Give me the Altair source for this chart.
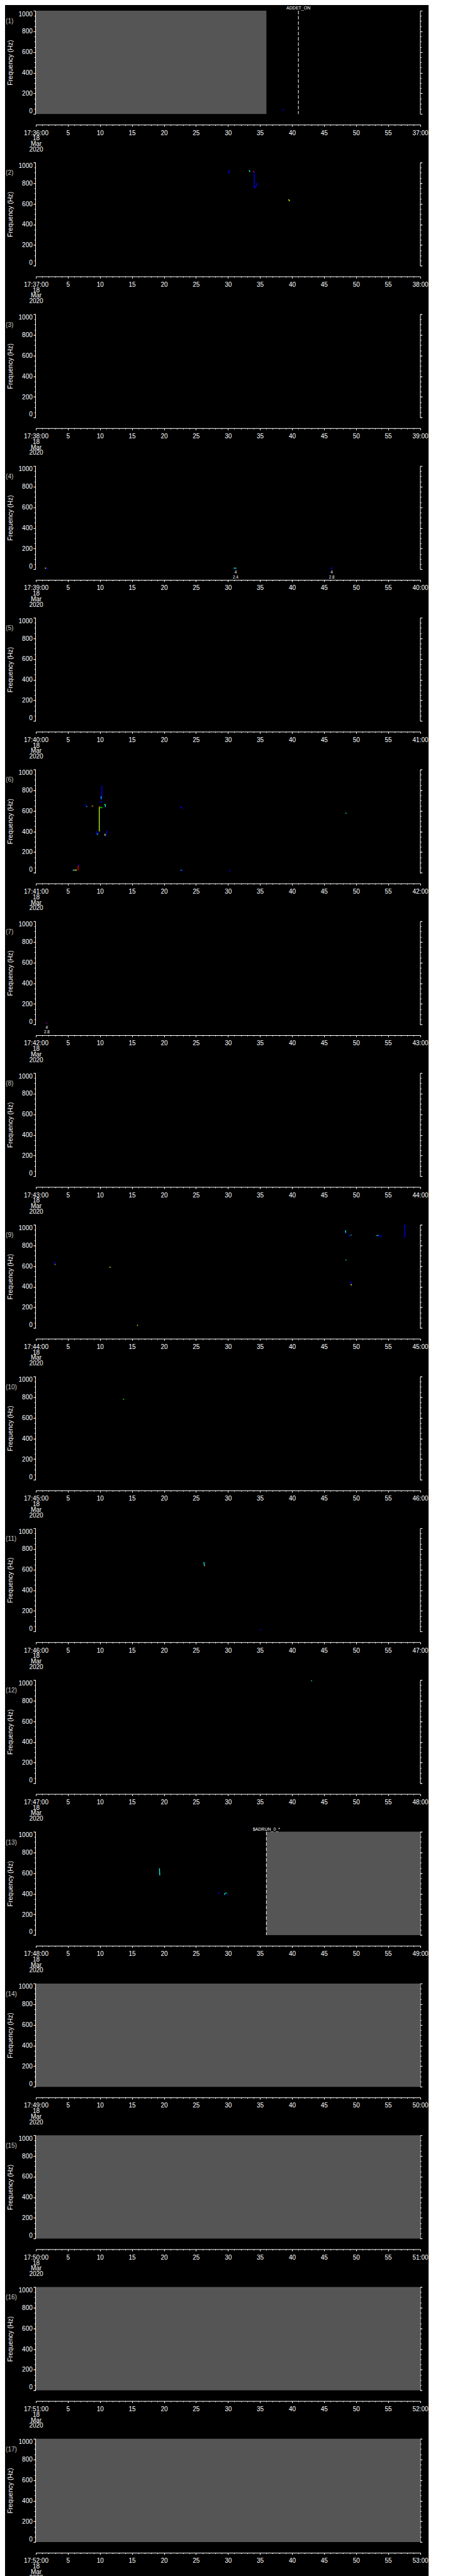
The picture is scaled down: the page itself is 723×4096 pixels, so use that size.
import altair as alt
import pandas as pd

S = 0.705
W = round(866 * S, 1)
H = round(233 * S, 1)
GAP = round(341.25 * S - H, 1)

panel_no = list(range(1, 18))
start_labels = ["17:36:00", "17:37:00", "17:38:00", "17:39:00", "17:40:00", "17:41:00",
                "17:42:00", "17:43:00", "17:44:00", "17:45:00", "17:46:00", "17:47:00",
                "17:48:00", "17:49:00", "17:50:00", "17:51:00", "17:52:00"]
end_labels = ["37:00", "38:00", "39:00", "40:00", "41:00", "42:00", "43:00", "44:00", "45:00",
              "46:00", "47:00", "48:00", "49:00", "50:00", "51:00", "52:00", "53:00"]
date_lines = ["18", "Mar", "2020"]
x_major = [0, 5, 10, 15, 20, 25, 30, 35, 40, 45, 50, 55, 60]
x_minor = list(range(0, 61))
y_major = [0, 200, 400, 600, 800, 1000]
y_minor = list(range(0, 1001, 50))

gray_panel = [1, 13, 14, 15, 16, 17]
gray_t0 = [0, 36, 0, 0, 0, 0]
gray_t1 = [36, 60, 60, 60, 60, 60]

event_panel = [1, 13]
event_t = [41, 36]
event_text = ["ADDET_ON", "$ADRUN_0_*"]

note_panel = [4, 4, 7]
note_t = [31.2, 46.2, 1.7]
note_text = ["4\n2.4", "4\n2.8", "4\n2.8"]

palette = {"b": "#0000ff", "c": "#00ffff", "y": "#ffff00", "r": "#ff0000",
           "o": "#ff8000", "g": "#00ff00", "l": "#bfff00"}

seg_panel = [1,
             2, 2, 2, 2, 2, 2, 2, 2,
             4, 4, 4, 4,
             6, 6, 6, 6, 6, 6, 6, 6, 6, 6, 6, 6, 6, 6, 6, 6, 6, 6, 6, 6, 6, 6, 6, 6, 6, 6, 6, 6, 6,
             7, 7,
             9, 9, 9, 9, 9, 9, 9, 9, 9, 9, 9, 9, 9, 9, 9, 9, 9, 9,
             10,
             11, 11, 11,
             12,
             13, 13, 13, 13, 13]
seg_t0 = [38.5,
          30.1, 30.15, 33.3, 33.9, 34.1, 34.1, 34.3, 39.45,
          1.4, 1.6, 30.9, 46.0,
          5.75, 6.05, 6.5, 6.6, 6.6, 7.7, 7.9, 8.7, 8.75, 9.4, 9.5, 9.7, 9.9, 9.9, 10.05, 10.0,
          10.2, 10.3, 10.65, 10.85, 10.8, 10.85, 10.9, 22.5, 22.75, 22.6, 22.75, 30.2, 48.35,
          1.55, 1.7,
          2.9, 2.95, 11.5, 15.8, 48.35, 48.4, 48.8, 49.0, 49.2, 48.4, 49.1, 49.2, 53.2, 53.5, 53.9,
          57.4, 57.6, 57.6,
          13.6,
          26.25, 26.3, 35.0,
          43.05,
          19.3, 28.5, 29.4, 29.6, 29.9]
seg_f0 = [40,
          893, 918, 925, 915, 910, 755, 755, 642,
          11, 11, 11, 11,
          26, 26, 28, 28, 74, 666, 643, 646, 374, 403, 375, 378, 400, 640, 630, 686,
          743, 843, 660, 660, 377, 357, 357, 636, 636, 26, 22, 17, 579,
          14, 14,
          641, 616, 591, 30, 947, 920, 902, 892, 897, 663, 454, 425, 895, 897, 892,
          883, 883, 993,
          780,
          672, 637, 17,
          997,
          646, 413, 392, 405, 410]
seg_t1 = [38.8,
          30.15, 30.4, 33.45, 34.1, 34.1, 34.3, 34.55, 39.65,
          1.6, 1.95, 31.3, 46.3,
          6.05, 6.4, 6.6, 6.6, 6.8, 7.9, 8.0, 8.95, 8.85, 9.5, 9.7, 9.85, 9.9, 10.05, 10.4, 10.4,
          10.2, 10.3, 10.9, 10.85, 10.8, 11.0, 11.15, 22.75, 22.8, 22.75, 23.0, 30.45, 48.5,
          1.7, 1.85,
          2.95, 3.05, 11.65, 15.95, 48.4, 48.5, 49.0, 49.2, 49.3, 48.45, 49.2, 49.3, 53.5, 53.9, 54.0,
          57.6, 57.6, 57.8,
          13.8,
          26.3, 26.45, 35.2,
          43.05,
          19.35, 28.7, 29.6, 29.8, 30.0]
seg_f1 = [40,
          915, 920, 908, 908, 755, 755, 800, 625,
          11, 7, 11, 11,
          26, 26, 28, 72, 74, 645, 638, 646, 374, 378, 374, 400, 636, 640, 630, 686,
          714, 714, 660, 636, 357, 357, 407, 636, 621, 26, 20, 17, 574,
          14, 14,
          616, 616, 586, 24, 920, 917, 892, 897, 903, 654, 425, 413, 897, 892, 877,
          883, 999, 986,
          780,
          640, 635, 17,
          988,
          578, 400, 405, 410, 385]
seg_color = ["b",
             "b", "b", "c", "r", "b", "b", "b", "y",
             "y", "b", "c", "b",
             "c", "y", "r", "r", "b", "b", "c", "o", "b", "b", "c", "b", "l", "o", "g", "b",
             "c", "b", "g", "c", "y", "b", "b", "b", "b", "c", "b", "b", "c",
             "r", "b",
             "b", "y", "y", "y", "c", "b", "b", "b", "g", "c", "b", "y", "c", "b", "b",
             "b", "b", "b",
             "g",
             "c", "o", "b",
             "c",
             "c", "b", "c", "g", "b"]

FONT = "Liberation Sans"

segs = pd.DataFrame({"p": seg_panel, "t0": seg_t0, "f0": seg_f0, "t1": seg_t1, "f1": seg_f1,
                     "c": [palette[c] for c in seg_color]})
grays = pd.DataFrame({"p": gray_panel, "t0": gray_t0, "t1": gray_t1, "f0": 0, "f1": 1000})
events = pd.DataFrame({"p": event_panel, "t": event_t, "txt": event_text})
notes = pd.DataFrame({"p": note_panel, "t": note_t, "txt": note_text})


def xs():
    return alt.Scale(domain=[0, 60], nice=False, zero=False)


def ys():
    return alt.Scale(domain=[0, 1000], nice=False, zero=False)


def panel_chart(i):
    one = pd.DataFrame({"t": [0.0], "f": [0.0]})
    lab = ("datum.value == 0 ? ['%s', '%s', '%s', '%s'] : (datum.value == 60 ? '%s' : datum.label)"
           % (start_labels[i - 1], date_lines[0], date_lines[1], date_lines[2], end_labels[i - 1]))
    layers = []
    # major axes (bottom x, left y)
    layers.append(alt.Chart(one).mark_point(opacity=0).encode(
        x=alt.X("t:Q", scale=xs(), title=None,
                axis=alt.Axis(orient="bottom", values=x_major, tickSize=2.8, offset=16.9,
                              format="d", labelExpr=lab, labelPadding=5.0, labelFlush=False,
                              labelOverlap=False, labelLineHeight=8.8, grid=False)),
        y=alt.Y("f:Q", scale=ys(), title="Frequency (Hz)",
                axis=alt.Axis(orient="left", values=y_major, tickSize=3.3, offset=1,
                              format="d", labelPadding=1.4, labelFlush=True, labelOverlap=False,
                              titleX=-39.2, titleY=H / 2, titleAngle=270,
                              titleBaseline="middle", titleAlign="center", grid=False))))
    # minor axes
    layers.append(alt.Chart(one).mark_point(opacity=0).encode(
        x=alt.X("t:Q", scale=xs(), title=None,
                axis=alt.Axis(orient="bottom", values=x_minor, tickSize=1.4, offset=16.9,
                              labels=False, domain=False, grid=False)),
        y=alt.Y("f:Q", scale=ys(), title=None,
                axis=alt.Axis(orient="left", values=y_minor, tickSize=1.8, offset=1,
                              labels=False, domain=False, grid=False))))
    # right axes
    layers.append(alt.Chart(one).mark_point(opacity=0).encode(
        x=alt.X("t:Q", scale=xs(), axis=None),
        y=alt.Y("f:Q", scale=ys(), title=None,
                axis=alt.Axis(orient="right", values=y_major, tickSize=3.3,
                              labels=False, grid=False))))
    layers.append(alt.Chart(one).mark_point(opacity=0).encode(
        x=alt.X("t:Q", scale=xs(), axis=None),
        y=alt.Y("f:Q", scale=ys(), title=None,
                axis=alt.Axis(orient="right", values=y_minor, tickSize=1.8,
                              labels=False, domain=False, grid=False))))

    g = grays[grays.p == i]
    if len(g):
        layers.append(alt.Chart(g).mark_rect(color="#555555").encode(
            x=alt.X("t0:Q", scale=xs(), axis=None), x2="t1:Q",
            y=alt.Y("f0:Q", scale=ys(), axis=None), y2="f1:Q"))
    e = events[events.p == i]
    if len(e):
        layers.append(alt.Chart(e).mark_rule(color="white", strokeWidth=1,
                                             strokeDash=[5.6, 2.8]).encode(
            x=alt.X("t:Q", scale=xs(), axis=None),
            y=alt.value(0), y2=alt.value(H)))
        layers.append(alt.Chart(e).mark_text(color="white", fontSize=7, font=FONT,
                                             align="center", baseline="top").encode(
            x=alt.X("t:Q", scale=xs(), axis=None),
            y=alt.value(-8.0), text="txt:N"))
    s = segs[segs.p == i]
    if len(s):
        layers.append(alt.Chart(s).mark_rule(strokeWidth=1.3).encode(
            x=alt.X("t0:Q", scale=xs(), axis=None), x2="t1:Q",
            y=alt.Y("f0:Q", scale=ys(), axis=None), y2="f1:Q",
            color=alt.Color("c:N", scale=None)))
    n = notes[notes.p == i]
    if len(n):
        layers.append(alt.Chart(n).mark_text(color="white", fontSize=6.3, font=FONT,
                                             align="center", baseline="top",
                                             lineBreak="\n", lineHeight=7.5).encode(
            x=alt.X("t:Q", scale=xs(), axis=None),
            y=alt.value(H + 1.8), text="txt:N"))
    # panel number label
    layers.append(alt.Chart(pd.DataFrame({"txt": ["(%d)" % i]})).mark_text(
        color="#c8c8c8", fontSize=10, font=FONT, align="left", baseline="middle").encode(
        x=alt.value(-47.9), y=alt.value(16.9), text="txt:N"))
    # black anchor that fixes the layout's top-left corner
    layers.append(alt.Chart(pd.DataFrame({"a": [0]})).mark_rule(
        color="black", strokeWidth=1).encode(
        x=alt.value(-47.9), y=alt.value(-8.4), y2=alt.value(H)))

    return alt.layer(*layers).resolve_axis(x="independent", y="independent").properties(
        width=W, height=H)


panels = [panel_chart(i) for i in panel_no]

chart = alt.vconcat(*panels, spacing=GAP, bounds="flush").properties(
    background="black", padding=0
).configure_view(stroke=None).configure_axis(
    labelColor="white", tickColor="white", domainColor="white", titleColor="white",
    labelFont=FONT, titleFont=FONT, labelFontSize=10, titleFontSize=10.5,
    titleFontWeight="normal", domainWidth=1, tickWidth=1, grid=False
)

chart.save("out.html", embed_options={"renderer": "svg", "actions": False})
